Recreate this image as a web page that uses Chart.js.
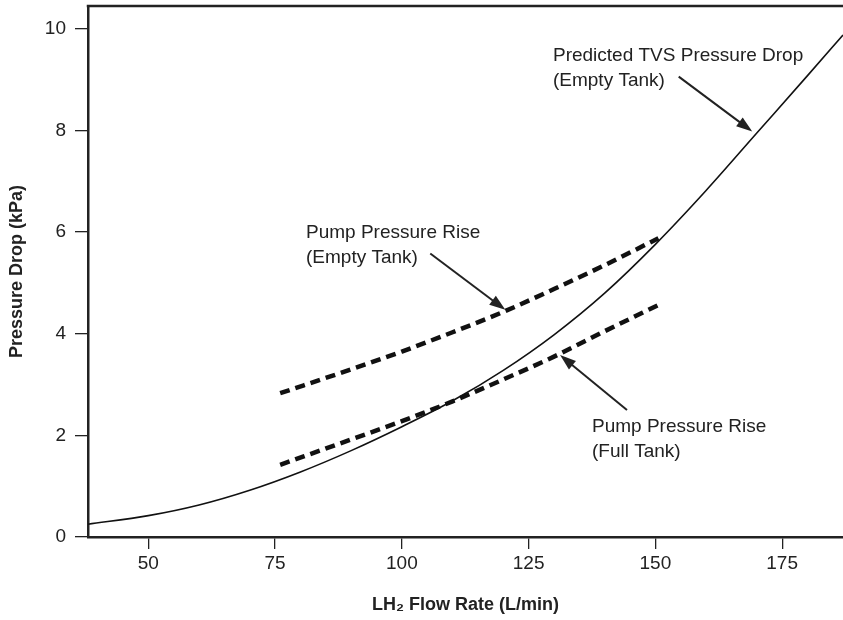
<!DOCTYPE html>
<html>
<head>
<meta charset="utf-8">
<script src="https://cdn.jsdelivr.net/npm/chart.js@4.4.1/dist/chart.umd.min.js"></script>
<style>
  html, body { margin: 0; padding: 0; background: #fff; }
</style>
</head>
<body>
<canvas id="myChart" width="843" height="620"></canvas>
<script>
// TVS pressure drop (empty tank)
const flow_tvs = [38, 50, 60, 70, 80, 90, 100, 110, 120, 130, 140, 150, 160, 170, 180, 187];
const drop_tvs = [0.25, 0.42, 0.63, 0.92, 1.28, 1.70, 2.17, 2.68, 3.28, 3.98, 4.80, 5.76, 6.82, 7.95, 9.08, 9.88];

// pump pressure rise, empty tank
const flow_empty = [76, 90, 100, 110, 120, 130, 140, 150.6];
const rise_empty = [2.83, 3.30, 3.65, 4.03, 4.43, 4.88, 5.35, 5.88];

// pump pressure rise, full tank
const flow_full = [76, 90, 100, 110, 120, 130, 140, 151.3];
const rise_full = [1.42, 1.92, 2.28, 2.67, 3.10, 3.55, 4.05, 4.60];

const xTicks = [50, 75, 100, 125, 150, 175];
const yTicks = [0, 2, 4, 6, 8, 10];

const ink = '#222';
const fontFamily = "'Liberation Sans', Arial, sans-serif";

// labels with arrows (text anchor, arrow tail, arrow tip in data units)
const notes = [
    { lines: ['Predicted TVS Pressure Drop', '(Empty Tank)'], x: 129.8, y: 9.36, from: [154.6, 9.06], to: [169.1, 7.98] },
    { lines: ['Pump Pressure Rise', '(Empty Tank)'], x: 81.1, y: 5.88, from: [105.6, 5.58], to: [120.4, 4.47] },
    { lines: ['Pump Pressure Rise', '(Full Tank)'], x: 137.5, y: 2.07, from: [144.4, 2.50], to: [131.2, 3.58] },
];

function pts(xs, ys) {
    return xs.map((v, i) => ({ x: v, y: ys[i] }));
}

function drawArrow(ctx, x1, y1, x2, y2) {
    const ang = Math.atan2(y2 - y1, x2 - x1);
    const len = 16, half = 5.5;
    const bx = x2 - len * Math.cos(ang), by = y2 - len * Math.sin(ang);
    ctx.lineWidth = 2;
    ctx.beginPath();
    ctx.moveTo(x1, y1);
    ctx.lineTo(bx + 2 * Math.cos(ang), by + 2 * Math.sin(ang));
    ctx.stroke();
    ctx.beginPath();
    ctx.moveTo(x2, y2);
    ctx.lineTo(bx + half * Math.sin(ang), by - half * Math.cos(ang));
    ctx.lineTo(bx - half * Math.sin(ang), by + half * Math.cos(ang));
    ctx.closePath();
    ctx.fill();
}

// top frame line + annotations
const extras = {
    id: 'extras',
    afterDatasetsDraw(chart) {
        const { ctx, chartArea, scales } = chart;
        const x = scales.x, y = scales.y;
        ctx.save();
        ctx.strokeStyle = ink;
        ctx.fillStyle = ink;
        ctx.lineWidth = 2.5;
        ctx.beginPath();
        ctx.moveTo(chartArea.left - 1.25, chartArea.top);
        ctx.lineTo(chartArea.right, chartArea.top);
        ctx.stroke();

        ctx.font = '19px ' + fontFamily;
        ctx.textAlign = 'left';
        ctx.textBaseline = 'alphabetic';
        notes.forEach(n => {
            const px = x.getPixelForValue(n.x), py = y.getPixelForValue(n.y);
            n.lines.forEach((t, i) => ctx.fillText(t, px, py + i * 25));
            drawArrow(ctx,
                x.getPixelForValue(n.from[0]), y.getPixelForValue(n.from[1]),
                x.getPixelForValue(n.to[0]), y.getPixelForValue(n.to[1]));
        });
        ctx.restore();
    }
};

var ctx = document.getElementById('myChart').getContext('2d');
var myChart = new Chart(ctx, {
    type: 'scatter',
    data: {
        datasets: [
            {
                label: 'Predicted TVS Pressure Drop',
                data: pts(flow_tvs, drop_tvs),
                showLine: true,
                borderColor: '#111',
                borderWidth: 1.6,
                pointRadius: 0,
                cubicInterpolationMode: 'monotone',
            },
            {
                label: 'Pump Pressure Rise (Empty Tank)',
                data: pts(flow_empty, rise_empty),
                showLine: true,
                borderColor: '#111',
                borderWidth: 4.5,
                borderDash: [10, 6],
                borderCapStyle: 'butt',
                pointRadius: 0,
                cubicInterpolationMode: 'monotone',
            },
            {
                label: 'Pump Pressure Rise (Full Tank)',
                data: pts(flow_full, rise_full),
                showLine: true,
                borderColor: '#111',
                borderWidth: 4.5,
                borderDash: [10, 6],
                borderCapStyle: 'butt',
                pointRadius: 0,
                cubicInterpolationMode: 'monotone',
            },
        ]
    },
    options: {
        responsive: false,
        animation: false,
        layout: { padding: { top: 6, right: 0, left: 0, bottom: 0 } },
        plugins: {
            legend: { display: false },
            tooltip: { enabled: false },
        },
        scales: {
            x: {
                type: 'linear',
                min: 38.1,
                max: 187,
                afterBuildTicks: s => { s.ticks = xTicks.map(v => ({ value: v })); },
                afterFit: s => { s.height = 83; s.paddingLeft = 0; s.paddingRight = 0; },
                grid: { drawOnChartArea: false, drawTicks: true, tickLength: 12, color: ink, lineWidth: 1.3 },
                border: { display: true, color: ink, width: 2.5 },
                ticks: { color: ink, padding: 3, maxRotation: 0, font: { family: fontFamily, size: 19 } },
                title: {
                    display: true,
                    text: 'LH\u2082 Flow Rate (L/min)',
                    color: ink,
                    font: { family: fontFamily, size: 18, weight: 'bold' },
                    padding: { top: 0, bottom: 4 },
                },
            },
            y: {
                type: 'linear',
                min: 0,
                max: 10.45,
                afterBuildTicks: s => { s.ticks = yTicks.map(v => ({ value: v })); },
                afterFit: s => { s.width = 88; s.paddingTop = 0; s.paddingBottom = 0; },
                grid: { drawOnChartArea: false, drawTicks: true, tickLength: 13, color: ink, lineWidth: 1.3 },
                border: { display: true, color: ink, width: 2.5 },
                ticks: { color: ink, padding: 9, font: { family: fontFamily, size: 19 } },
                title: {
                    display: true,
                    text: 'Pressure Drop (kPa)',
                    color: ink,
                    font: { family: fontFamily, size: 18, weight: 'bold' },
                    padding: { top: 6, bottom: 0 },
                },
            }
        }
    },
    plugins: [extras]
});
</script>
</body>
</html>
